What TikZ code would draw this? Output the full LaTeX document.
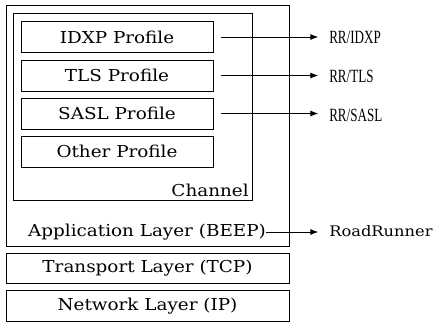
\documentclass[tikz,border=0pt]{standalone}
\usepackage{fontspec}
\setmainfont[FakeStretch=1.12]{DejaVu Serif}
\newfontfamily\rrfont[FakeStretch=0.7]{Liberation Serif}
\usetikzlibrary{arrows.meta}

\begin{document}
\begin{tikzpicture}[x=0.75pt,y=-0.75pt,
    box/.style={draw,line width=0.6pt,inner sep=0pt},
    profbox/.style={box,minimum width=144pt,minimum height=23.25pt,font=\fontsize{12.3}{14}\selectfont},
    layerbox/.style={box,minimum width=212.25pt,minimum height=22.5pt,font=\fontsize{12.3}{14}\selectfont},
    rrlbl/.style={inner sep=0pt,anchor=west,font=\rrfont\fontsize{14}{16}\selectfont},
    rrarrow/.style={line width=0.7pt,-{Latex[length=6pt,width=4.5pt]}}]
  \useasboundingbox (0,0) rectangle (434,322);
  % boxes
  \node[box,minimum width=212.25pt,minimum height=180.75pt] (app) at (147.5,125.5) {};
  \node[box,minimum width=179.25pt,minimum height=140.25pt] (channel) at (132.5,106.5) {};
  \node[profbox] (idxp) at (117,37) {IDXP Profile};
  \node[profbox] (tls) at (117,75.5) {TLS Profile};
  \node[profbox] (sasl) at (117,113.5) {SASL Profile};
  \node[profbox] (other) at (117,151.5) {Other Profile};
  \node[inner sep=0pt,anchor=south east,font=\fontsize{12.3}{14}\selectfont] (chlbl) at (249,197) {Channel};
  \node[inner sep=0pt,font=\fontsize{12.3}{14}\selectfont] (applbl) at (147,232) {Application Layer (BEEP)};
  \node[layerbox] (tcp) at (147.5,268.5) {Transport Layer (TCP)};
  \node[layerbox,minimum height=23.25pt] (ip) at (147.5,306) {Network Layer (IP)};
  % outside labels
  \node[rrlbl] (rridxp) at (329,37) {RR/IDXP};
  \node[rrlbl] (rrtls) at (329,76) {RR/TLS};
  \node[rrlbl] (rrsasl) at (329,115) {RR/SASL};
  \node[inner sep=0pt,anchor=west,font=\fontsize{10.9}{12}\selectfont] (rr) at (329,231) {RoadRunner};
  \draw[rrarrow] ([xshift=6pt]idxp.east) to ([xshift=-8pt]idxp.east -| rridxp.west);
  \draw[rrarrow] ([xshift=6pt]tls.east) to ([xshift=-8pt]tls.east -| rrtls.west);
  \draw[rrarrow] ([xshift=6pt]sasl.east) to ([xshift=-8pt]sasl.east -| rrsasl.west);
  \draw[rrarrow] (applbl.east) to ([xshift=-8pt]applbl.east -| rr.west);
\end{tikzpicture}
\end{document}
